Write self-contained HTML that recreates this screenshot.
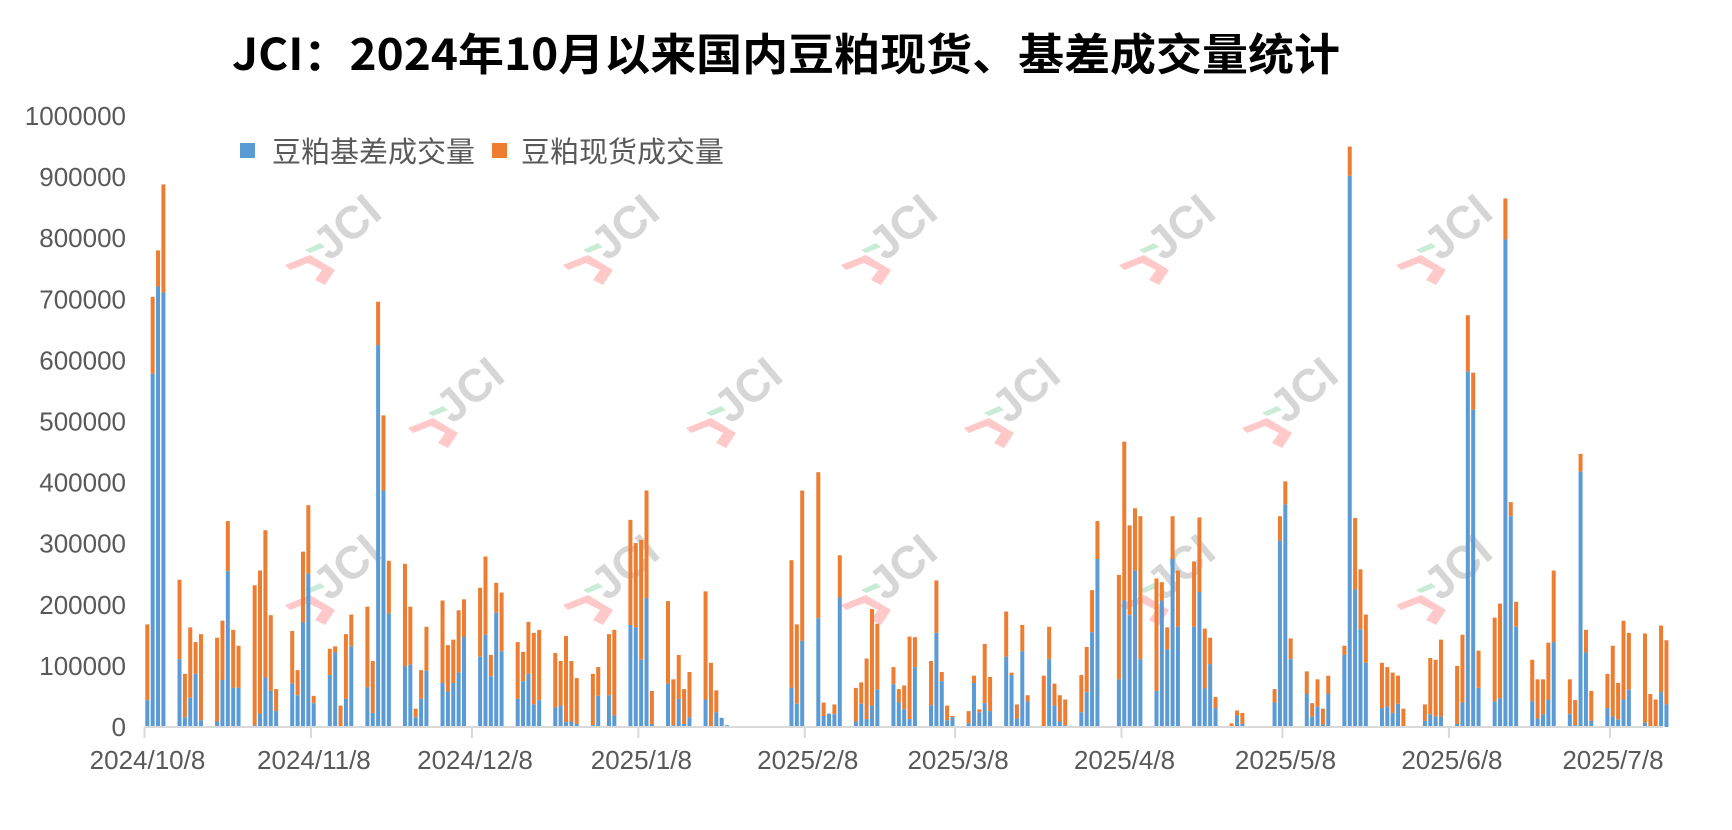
<!DOCTYPE html>
<html><head><meta charset="utf-8">
<style>
html,body{margin:0;padding:0;background:#fff;}
svg{display:block;}
text{font-family:"Liberation Sans","Noto Sans CJK SC",sans-serif;}
</style></head>
<body>
<svg id="c" width="1732" height="830" viewBox="0 0 1732 830" xmlns="http://www.w3.org/2000/svg">
<rect width="1732" height="830" fill="#fff"/>
<g id="wm"></g>
<text x="786" y="70" text-anchor="middle" font-size="44" font-weight="bold" fill="#000" textLength="1108" lengthAdjust="spacingAndGlyphs" style="font-family:'Noto Sans CJK SC','Liberation Sans',sans-serif">JCI：2024年10月以来国内豆粕现货、基差成交量统计</text>
<g id="yl" font-size="26" fill="#595959" text-anchor="end" style="font-family:'Noto Sans CJK SC',sans-serif"></g>
<g id="bars"></g>
<line x1="144.5" y1="727" x2="1663" y2="727" stroke="#d9d9d9" stroke-width="2"/>
<g id="xl" font-size="26" fill="#595959" text-anchor="middle" style="font-family:'Noto Sans CJK SC',sans-serif"></g>
<rect x="240" y="143" width="15" height="15" fill="#5b9bd5"/>
<text x="272" y="162" font-size="29" fill="#595959" style="font-family:'Noto Sans CJK SC',sans-serif">豆粕基差成交量</text>
<rect x="492" y="143" width="15" height="15" fill="#ed7d31"/>
<text x="521" y="162" font-size="29" fill="#595959" style="font-family:'Noto Sans CJK SC',sans-serif">豆粕现货成交量</text>
</svg>
<script>
var NS="http://www.w3.org/2000/svg";
function el(p,t,a,txt){var e=document.createElementNS(NS,t);for(var k in a)e.setAttribute(k,a[k]);if(txt!=null)e.textContent=txt;p.appendChild(e);return e;}
var Y0=727,PK=0.611;
var yl=document.getElementById('yl');
for(var i=0;i<=10;i++){el(yl,'text',{x:126,y:Y0-i*61.1+9},String(i*100000));}
var X0=144.5,PD=5.368;
var xl=document.getElementById('xl');
var ticks=[[0,'2024/10/8'],[31,'2024/11/8'],[61,'2024/12/8'],[92,'2025/1/8'],[123,'2025/2/8'],[151,'2025/3/8'],[182,'2025/4/8'],[212,'2025/5/8'],[243,'2025/6/8'],[273,'2025/7/8']];
ticks.forEach(function(t){var x=X0+t[0]*PD;el(xl,'line',{x1:x,y1:Y0,x2:x,y2:Y0+11,stroke:'#d9d9d9','stroke-width':2});el(xl,'text',{x:x+3,y:Y0+42},t[1]);});
var D=[[0,44,168],[1,578,704],[2,721,780],[3,711,888],[6,111,241],[7,16,87],[8,48,163],[9,87,139],[10,11,152],[13,9,146],[14,77,174],[15,255,337],[16,64,159],[17,64,133],[20,3,232],[21,22,256],[22,81,322],[23,59,183],[24,26,62],[27,71,157],[28,52,93],[29,171,287],[30,251,363],[31,39,51],[34,85,128],[35,122,132],[36,0,35],[37,46,152],[38,132,184],[41,65,197],[42,23,108],[43,625,696],[44,387,510],[45,186,272],[48,99,267],[49,102,197],[50,16,30],[51,46,93],[52,92,164],[55,72,207],[56,58,134],[57,72,143],[58,89,191],[59,148,209],[62,115,228],[63,151,279],[64,83,118],[65,187,236],[66,124,220],[69,46,139],[70,75,123],[71,87,172],[72,37,154],[73,44,159],[76,32,121],[77,35,108],[78,8,149],[79,9,108],[80,5,80],[83,3,87],[84,51,98],[86,52,152],[87,19,159],[90,167,339],[91,163,301],[92,110,306],[93,211,387],[94,5,59],[97,71,206],[98,3,78],[99,46,118],[100,5,62],[101,16,90],[104,45,222],[105,0,105],[106,24,60],[107,15,15],[108,3,3],
[120,64,273],[121,38,168],[122,141,387],[125,178,417],[126,18,40],[127,22,22],[128,21,37],[129,212,281],[132,9,64],[133,38,73],[134,13,112],[135,35,193],[136,61,169],[139,70,98],[140,41,62],[141,29,68],[142,13,148],[143,98,147],[146,35,108],[147,154,240],[148,75,90],[149,11,35],[150,16,18],
[153,6,26],[154,72,84],[155,24,29],[156,39,136],[157,26,82],[160,115,189],[161,85,89],[162,14,37],[163,124,167],[164,42,52],[167,0,84],[168,111,164],[169,35,71],[170,9,52],[171,3,45],[174,24,85],[175,57,131],[176,155,224],[177,275,337],[181,78,249],[182,207,467],[183,183,330],[184,256,358],[185,111,345],[188,59,243],[189,207,237],[190,127,163],[191,275,345],[192,164,256],[195,164,271],[196,221,343],[197,63,161],[198,103,146],[199,31,49],[202,0,6],[203,19,27],[204,5,23],[210,40,62],[211,305,345],[212,364,402],[213,111,145],[216,54,91],[217,17,39],[218,33,78],[219,4,30],[220,54,84],[223,118,133],[224,902,950],[225,225,342],[226,160,258],[227,105,184],[230,31,105],[231,33,98],[232,23,89],[233,38,84],[234,0,30],[238,10,37],[239,21,113],[240,17,110],[241,17,143],[244,5,100],[245,40,151],[246,582,674],[247,519,580],[248,64,125],[251,42,179],[252,47,202],[253,798,865],[254,345,368],[255,164,205],[258,42,110],[259,14,78],[260,21,78],[261,45,138],[262,139,256],[265,21,78],[266,3,44],[267,418,447],[268,122,159],[269,10,59],[272,31,87],[273,17,133],[274,12,72],[275,45,174],[276,61,154],[279,7,153],[280,0,54],[281,0,45],[282,57,166],[283,37,142]];
var g=document.getElementById('bars');
D.forEach(function(d){var x=X0+d[0]*PD+0.8;var hb=d[1]*PK,ht=d[2]*PK;
 if(ht>hb)el(g,'rect',{x:x,y:Y0-ht,width:4,height:ht-hb,fill:'#ed7d31'});
 if(hb>0)el(g,'rect',{x:x,y:Y0-hb,width:4,height:hb,fill:'#5b9bd5'});});
var wm=document.getElementById('wm');
var P=[[330,255],[608,255],[886,255],[1164,255],[1441,255],[453,418],[731,418],[1009,418],[1287,418],[330,595],[608,595],[886,595],[1164,595],[1441,595]];
P.forEach(function(p){var gg=el(wm,'g',{transform:'translate('+p[0]+','+p[1]+')'});
 el(gg,'path',{d:'M-45,10 L-20,0 L5,15 L-5,30 L-15,25 L-8,15 L-22,8 L-40,15 Z',fill:'#ffc9c9'});
 el(gg,'path',{d:'M-25,-5 L-10,-12 L-5,-8 L-20,-2 Z',fill:'#c8ecd8'});
 el(gg,'text',{x:0,y:0,'font-size':46,'font-weight':'bold',fill:'#d6d6d6',transform:'rotate(-40) translate(-5,5)'},'JCI');});
</script>
</body></html>
